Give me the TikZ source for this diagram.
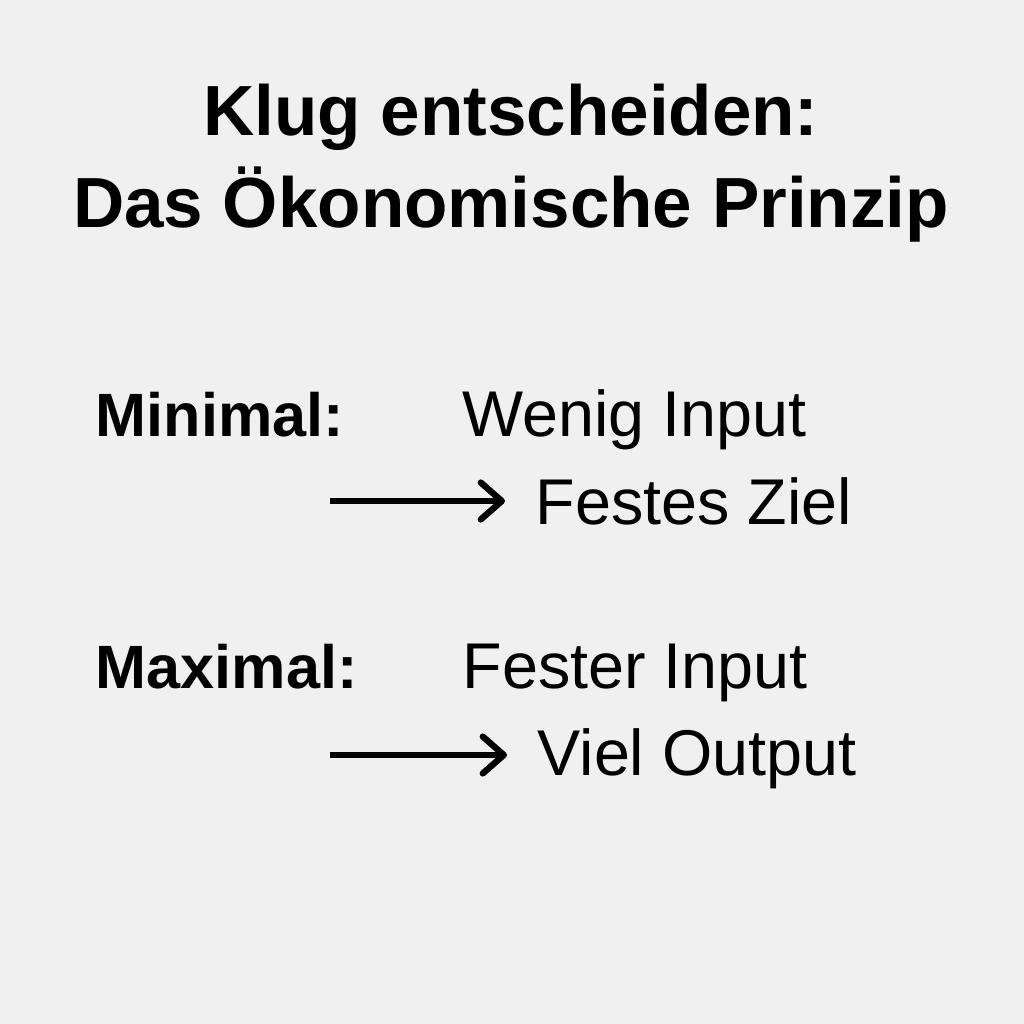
\documentclass[tikz,border=0pt]{standalone}
\usepackage{fontspec}
\setmainfont{Liberation Sans}
\usetikzlibrary{arrows.meta}
\definecolor{paper}{HTML}{F0F0F0}
\tikzset{
    titletext/.style={anchor=base, inner sep=0pt, font=\fontsize{20.2}{24}\selectfont\bfseries},
    labeltext/.style={anchor=base west, inner sep=0pt, font=\fontsize{17.4}{21}\selectfont\bfseries},
    itemtext/.style={anchor=base west, inner sep=0pt, font=\fontsize{18.4}{22}\selectfont},
    arrowline/.style={line width=1.8pt, -{Straight Barb[round, length=6pt, width=10.5pt]}, shorten >=3mm}
}
\begin{document}
\begin{tikzpicture}
    % Background
    \fill [paper] (0,0) rectangle (10.24,-10.24);
    % Title
    \node [titletext] (title1) at (5.11,-1.35) {Klug entscheiden:};
    \node [titletext] (title2) at (5.11,-2.27) {Das Ökonomische Prinzip};
    % Minimal
    \node [labeltext] (minimal) at (0.95,-4.36) {Minimal:};
    \node [itemtext] (wenig) at (4.62,-4.36) {Wenig Input};
    \node [itemtext] (festes) at (5.35,-5.24) {Festes Ziel};
    \coordinate (arrowA) at (3.3,-5.01);
    \draw [arrowline] (arrowA) -- (arrowA -| festes.west);
    % Maximal
    \node [labeltext] (maximal) at (0.95,-6.88) {Maximal:};
    \node [itemtext] (fester) at (4.62,-6.88) {Fester Input};
    \node [itemtext] (viel) at (5.37,-7.75) {Viel Output};
    \coordinate (arrowB) at (3.3,-7.55);
    \draw [arrowline] (arrowB) -- (arrowB -| viel.west);
\end{tikzpicture}
\end{document}
